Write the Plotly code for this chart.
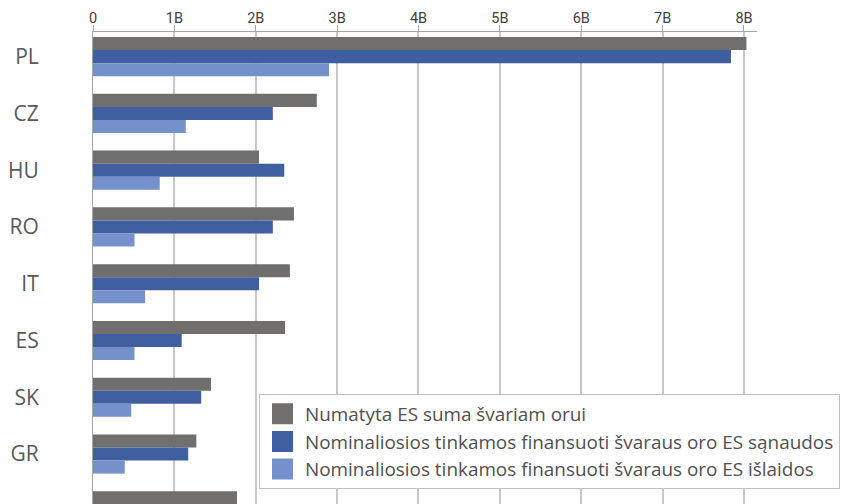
import plotly.graph_objects as go

categories = ["PL", "CZ", "HU", "RO", "IT", "ES", "SK", "GR", "BG"]
planned = [8.03, 2.75, 2.04, 2.47, 2.42, 2.36, 1.45, 1.27, 1.77]
costs = [7.84, 2.21, 2.35, 2.21, 2.04, 1.09, 1.33, 1.17, 1.05]
expenditure = [2.90, 1.14, 0.82, 0.51, 0.64, 0.51, 0.47, 0.39, 0.35]
series_names = [
    "Numatyta ES suma švariam orui",
    "Nominaliosios tinkamos finansuoti švaraus oro ES sąnaudos",
    "Nominaliosios tinkamos finansuoti švaraus oro ES išlaidos",
]
tick_vals = [0, 1, 2, 3, 4, 5, 6, 7, 8]
tick_text = ["0", "1B", "2B", "3B", "4B", "5B", "6B", "7B", "8B"]

colors = ["#706f6d", "#405fa0", "#7591cb"]
series = [planned, costs, expenditure]

fig = go.Figure()
for name, vals, col in zip(series_names, series, colors):
    fig.add_trace(go.Bar(
        y=categories, x=vals, orientation="h", name=name,
        marker=dict(color=col, line=dict(width=0)),
        showlegend=False, legendgroup=name,
    ))
for name, col in zip(series_names, colors):
    fig.add_trace(go.Scatter(
        x=[None], y=[None], mode="markers", name=name, legendgroup=name,
        marker=dict(symbol="square", size=16, color=col, line=dict(color=col, width=5)),
        showlegend=True,
    ))

fig.update_layout(
    width=843, height=496,
    margin=dict(l=85, r=94, t=24, b=0, pad=0, autoexpand=False),
    paper_bgcolor="white", plot_bgcolor="white",
    barmode="group", bargap=0.31, bargroupgap=0,
    font=dict(family="Open Sans, Roboto, sans-serif", color="#404040"),
    xaxis=dict(
        side="top", range=[0, 8.16], tickvals=tick_vals, ticktext=tick_text,
        showline=True, linecolor="#a6a6a6", linewidth=1,
        ticks="outside", ticklen=6, tickcolor="#a6a6a6", tickwidth=1,
        showgrid=True, gridcolor="#c8c8c8", gridwidth=1.5,
        zeroline=False, automargin=False, ticklabelstandoff=-4,
        tickfont=dict(family="Liberation Sans Narrow, Roboto, sans-serif", size=14.5, color="#404040"),
    ),
    yaxis=dict(
        type="category", categoryorder="array", categoryarray=categories,
        range=[7.88, -0.434],
        showline=True, linecolor="#a6a6a6", linewidth=1,
        ticks="", showgrid=False, zeroline=False, automargin=False,
        ticklabelstandoff=49,
        tickfont=dict(family="Open Sans, Roboto, sans-serif", size=21, color="#595959"),
    ),
    legend=dict(
        x=0.25, y=0.233, xanchor="left", yanchor="top",
        bgcolor="white", bordercolor="#bfbfbf", borderwidth=1,
        font=dict(family="Open Sans, Roboto, sans-serif", size=18.9, color="#505050"),
        itemsizing="trace", tracegroupgap=5, traceorder="normal", itemwidth=35,
    ),
)

fig.write_html("out.html")
